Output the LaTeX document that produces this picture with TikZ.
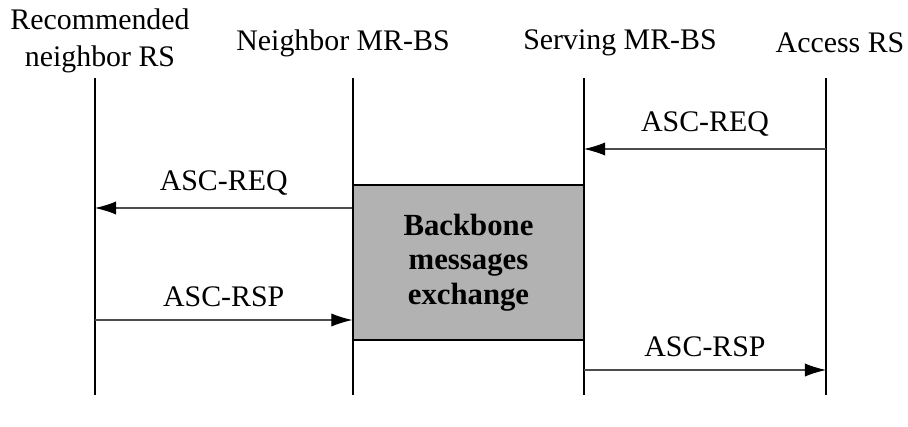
\documentclass[tikz,border=0pt]{standalone}
\usepackage{fontspec}
\setmainfont{Liberation Serif}
\usetikzlibrary{arrows.meta}

\begin{document}
\begin{tikzpicture}[x=0.02cm, y=-0.02cm,
		lbl/.style={anchor=center, align=center, font=\fontsize{17}{21}\selectfont, inner sep=0pt},
		life/.style={line width=0.85pt},
		msg/.style={line width=0.6pt, draw=black!70, -{Latex[length=12pt, width=7.5pt, color=black]}},
		bbox/.style={shape=rectangle, draw, line width=0.7pt, fill=black!30, minimum width=4.62cm, minimum height=3.1cm, align=center, font=\fontsize{17.5}{19.5}\selectfont\bfseries}]
	% Frame:
	\useasboundingbox (0,0) rectangle (908,426);
	% Entities and lifelines:
	\node[lbl] (rs) at (100, 41){Recommended\\neighbor RS};
	\node[lbl] (nbs) at (343, 43){Neighbor MR-BS};
	\node[lbl] (sbs) at (620, 43){Serving MR-BS};
	\node[lbl] (ars) at (840, 43){Access RS};
	\coordinate (rsT) at (95, 78);   \coordinate (rsB) at (95, 395);
	\coordinate (nbsT) at (353, 78); \coordinate (nbsB) at (353, 395);
	\coordinate (sbsT) at (584, 78); \coordinate (sbsB) at (584, 395);
	\coordinate (arsT) at (826, 78); \coordinate (arsB) at (826, 395);
	\draw[life] (rsT) -- (rsB);
	\draw[life] (nbsT) -- (nbsB);
	\draw[life] (sbsT) -- (sbsB);
	\draw[life] (arsT) -- (arsB);
	% Backbone box:
	\node[bbox] (bb) at (468.5, 262.5){Backbone\\messages\\exchange};
	% Messages:
	\draw[msg] (arsT |- 0,149) -- node[lbl, above=7pt]{ASC-REQ} (sbsT |- 0,149);
	\draw[msg] (bb.west |- 0,208) -- node[lbl, above=7pt]{ASC-REQ} (rsT |- 0,208);
	\draw[msg] (rsT |- 0,320) -- node[lbl, above=7pt]{ASC-RSP} (bb.west |- 0,320);
	\draw[msg] (sbsT |- 0,370) -- node[lbl, above=7pt]{ASC-RSP} (arsT |- 0,370);
\end{tikzpicture}
\end{document}
